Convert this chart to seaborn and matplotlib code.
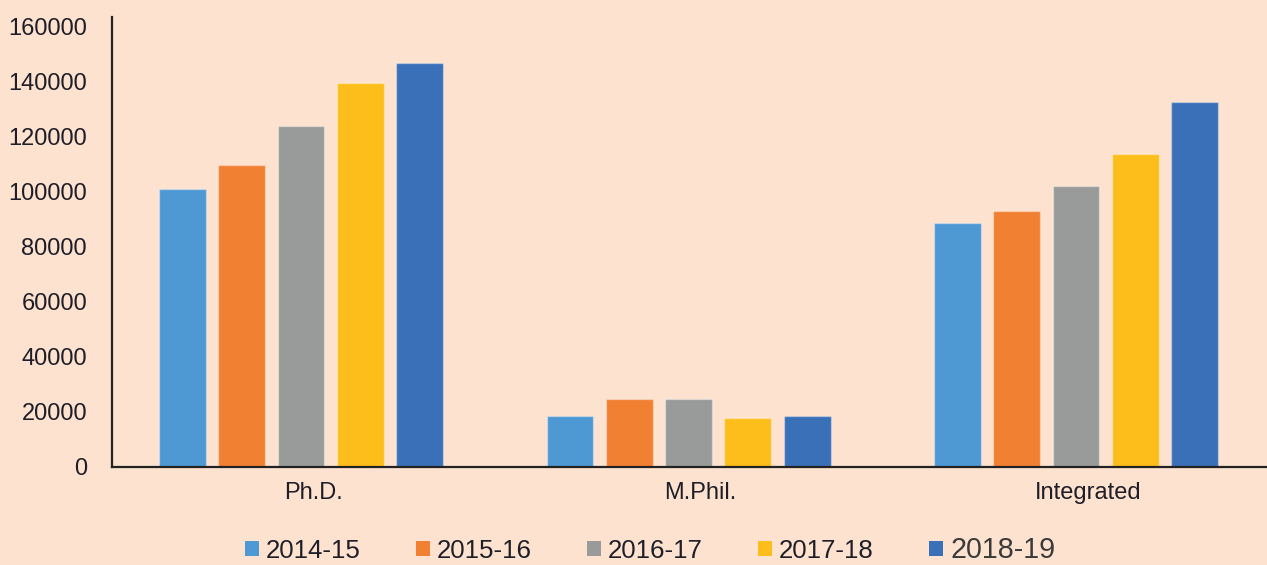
import matplotlib
matplotlib.use("Agg")
import matplotlib.pyplot as plt
import matplotlib.transforms as mtransforms
import seaborn as sns
import pandas as pd

# Enrolment by programme and academic year
programmes = ["Ph.D.", "M.Phil.", "Integrated"]
years = ["2014-15", "2015-16", "2016-17", "2017-18", "2018-19"]
phd = [100900, 109700, 123700, 139300, 146700]
mphil = [18500, 24800, 24800, 17700, 18600]
integrated = [88400, 93000, 102000, 113700, 132300]
colors = ["#4e98d3", "#f28033", "#999b9b", "#fdbd1b", "#3a70b7"]
y_ticks = [0, 20000, 40000, 60000, 80000, 100000, 120000, 140000, 160000]

rows = []
for prog, vals in zip(programmes, [phd, mphil, integrated]):
    for yr, v in zip(years, vals):
        rows.append({"programme": prog, "year": yr, "students": v})
df = pd.DataFrame(rows)

bg = "#fde2cf"
sns.set_theme(style="white")
plt.rcParams["font.family"] = ["Liberation Sans", "DejaVu Sans"]

fig = plt.figure(figsize=(12.67, 5.65), dpi=100, facecolor=bg)
ax = fig.add_axes([0.0884, 0.1735, 0.9116, 0.7965])
ax.set_facecolor(bg)

sns.barplot(data=df, x="programme", y="students", hue="year",
            order=programmes, hue_order=years, palette=colors,
            width=0.765, gap=0.21, saturation=1, errorbar=None,
            edgecolor=(1, 1, 1, 0.35), linewidth=1.0, ax=ax)

ax.set_xlim(-0.488, 2.493)
ax.set_ylim(0, 163300)
ax.set_yticks(y_ticks)
ax.set_yticklabels([str(t) for t in y_ticks])
ax.set_xlabel("")
ax.set_ylabel("")

for side in ["top", "right"]:
    ax.spines[side].set_visible(False)
for side in ["left", "bottom"]:
    ax.spines[side].set_color("#222222")
    ax.spines[side].set_linewidth(1.6)

ax.tick_params(axis="y", length=0, pad=18, labelsize=17, labelcolor="#1e1e28")
ax.tick_params(axis="x", length=0, pad=11, labelsize=17, labelcolor="#1e1e28")

# nudge category labels slightly right
offset = mtransforms.ScaledTranslation(12 / 100, 0, fig.dpi_scale_trans)
for lbl in ax.get_xticklabels():
    lbl.set_transform(lbl.get_transform() + offset)

sns.move_legend(ax, "center", bbox_to_anchor=(0.513, 0.027),
                bbox_transform=fig.transFigure, ncol=5, frameon=False,
                title=None, fontsize=18.6, handlelength=0.55, handleheight=0.55,
                handletextpad=0.27, columnspacing=2.13)
leg = ax.get_legend()
for i, txt in enumerate(leg.get_texts()):
    txt.set_color("#1e1e28")
    if i == len(years) - 1:
        txt.set_fontsize(20.6)
        txt.set_color("#3a3a3a")
for h in leg.legend_handles:
    h.set_edgecolor("none")

fig.savefig("out.png", dpi=100, facecolor=bg)
